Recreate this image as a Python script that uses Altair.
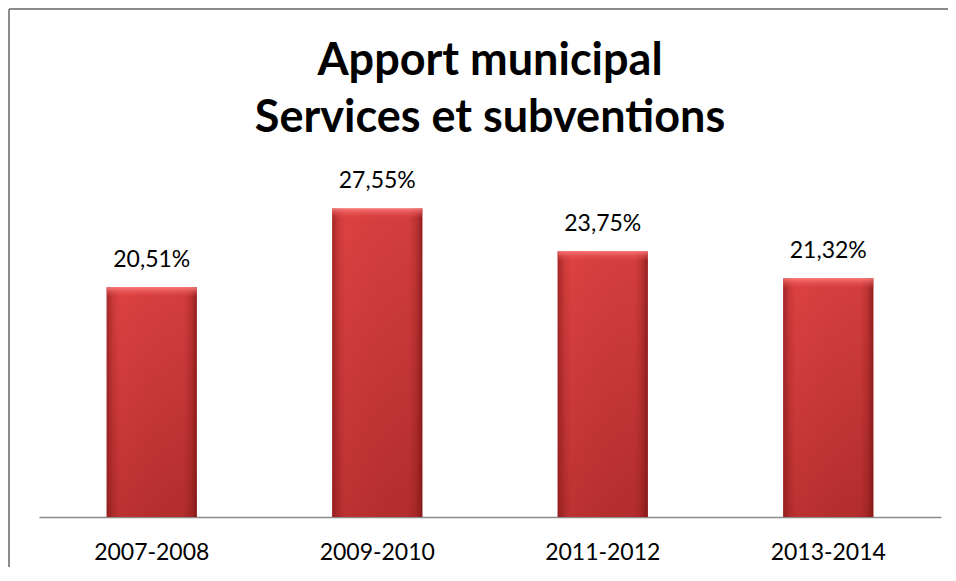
import altair as alt
import pandas as pd

categories = ["2007-2008", "2009-2010", "2011-2012", "2013-2014"]
values = [20.51, 27.55, 23.75, 21.32]

df = pd.DataFrame({"periode": categories, "valeur": values})

FONT = "Lato"

base = alt.Chart(df).transform_calculate(
    label="replace(format(datum.valeur, '.2f'), '.', ',') + '%'"
)

x_enc = alt.X(
    "periode:N",
    sort=categories,
    title=None,
    scale=alt.Scale(paddingInner=0.6, paddingOuter=0.3),
    axis=alt.Axis(
        labelAngle=0,
        labelFont=FONT,
        labelFontSize=23,
        labelColor="#000000",
        labelPadding=24,
        ticks=False,
        domainColor="#8c8c8c",
        domainWidth=1.5,
        grid=False,
    ),
)
y_enc = alt.Y(
    "valeur:Q",
    scale=alt.Scale(domain=[0, 30], nice=False),
    axis=None,
)

body_fill = {
    "gradient": "linear",
    "x1": 0, "y1": 0, "x2": 0, "y2": 1,
    "stops": [
        {"offset": 0, "color": "#d94040"},
        {"offset": 1, "color": "#b52e2e"},
    ],
}
edge_fill = {
    "gradient": "linear",
    "x1": 0, "y1": 0, "x2": 1, "y2": 0,
    "stops": [
        {"offset": 0, "color": "rgba(120,20,20,0.55)"},
        {"offset": 0.07, "color": "rgba(120,20,20,0.15)"},
        {"offset": 0.15, "color": "rgba(255,80,80,0.10)"},
        {"offset": 0.85, "color": "rgba(120,20,20,0.05)"},
        {"offset": 0.93, "color": "rgba(110,15,15,0.25)"},
        {"offset": 1, "color": "rgba(100,10,10,0.6)"},
    ],
}
top_fill = {
    "gradient": "linear",
    "x1": 0, "y1": 0, "x2": 0, "y2": 1,
    "stops": [
        {"offset": 0, "color": "rgba(255,130,130,0.85)"},
        {"offset": 1, "color": "rgba(230,70,70,0.0)"},
    ],
}

bars = base.mark_bar(fill=body_fill).encode(x=x_enc, y=y_enc)
edges = base.mark_bar(fill=edge_fill).encode(x=x_enc, y=y_enc)
tops = base.mark_bar(fill=top_fill, y2Offset=10).encode(
    x=x_enc, y=y_enc, y2=alt.Y2("valeur:Q")
)
labels = base.mark_text(
    font=FONT, fontSize=23, color="#000000", baseline="alphabetic", dy=-20
).encode(x=x_enc, y=y_enc, text="label:N")

frame_top = base.mark_rule(color="#8c8c8c", strokeWidth=2).encode(
    x=alt.value(-30), x2=alt.value(1200), y=alt.value(-172)
)
frame_left = base.mark_rule(color="#8c8c8c", strokeWidth=2).encode(
    x=alt.value(-30), y=alt.value(-172), y2=alt.value(800)
)

chart = alt.layer(bars, edges, tops, labels, frame_top, frame_left).properties(
    width=902,
    height=336,
    autosize=alt.AutoSizeParams(type="none"),
    padding={"left": 31, "top": 173, "right": 7, "bottom": 50},
    title=alt.TitleParams(
        text=["Apport municipal", "Services et subventions"],
        font=FONT,
        fontSize=45,
        fontWeight="bold",
        color="#000000",
        lineHeight=57,
        anchor="middle",
        frame="group",
        offset=-133,
    ),
    background="#ffffff",
).configure_view(strokeWidth=0)

chart.save("out.html", embed_options={"renderer": "svg", "actions": False})
